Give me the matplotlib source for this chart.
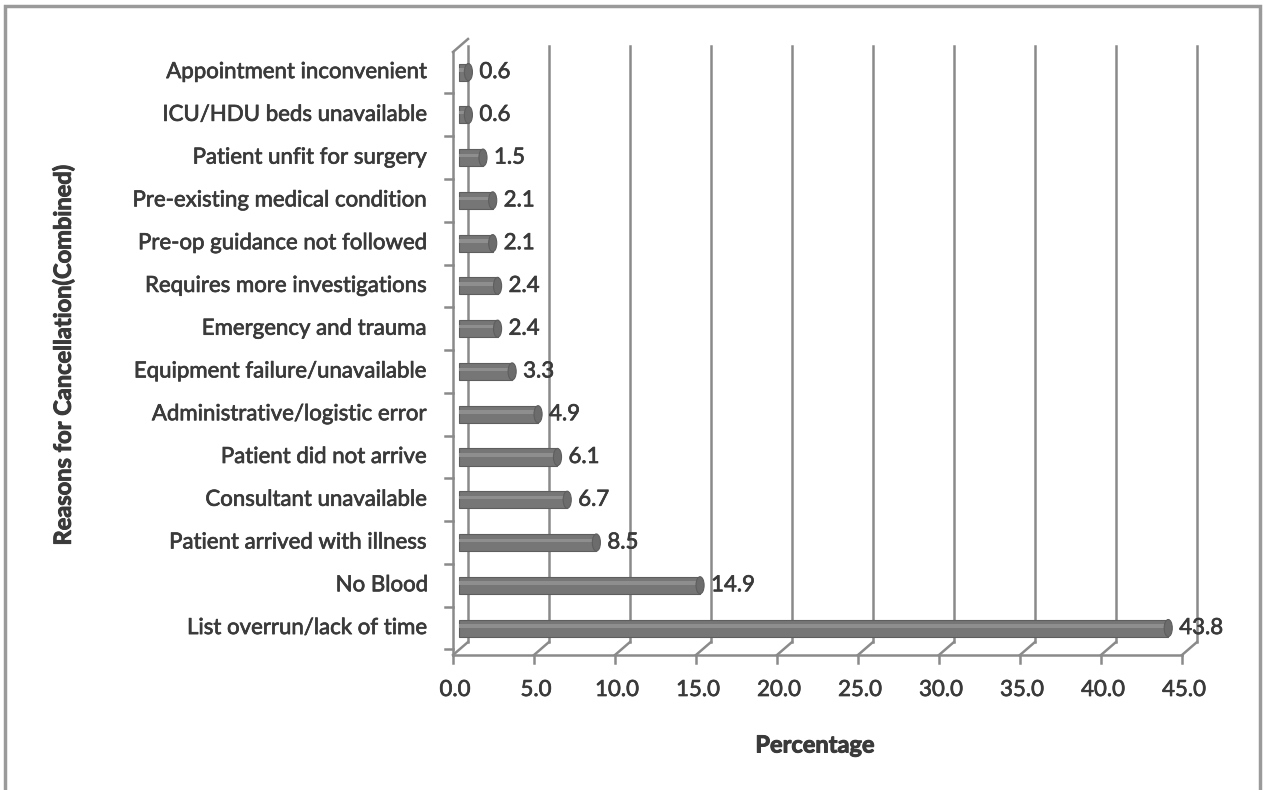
import numpy as np
import matplotlib.pyplot as plt
import matplotlib.patheffects as pe
from matplotlib.patches import Ellipse, Rectangle
from matplotlib.transforms import offset_copy

# donnees (de bas en haut)
reasons = ["List overrun/lack of time", "No Blood", "Patient arrived with illness",
           "Consultant unavailable", "Patient did not arrive", "Administrative/logistic error",
           "Equipment failure/unavailable", "Emergency and trauma", "Requires more investigations",
           "Pre-op guidance not followed", "Pre-existing medical condition",
           "Patient unfit for surgery", "ICU/HDU beds unavailable", "Appointment inconvenient"]
pct = [43.8, 14.9, 8.5, 6.7, 6.1, 4.9, 3.3, 2.4, 2.4, 2.1, 2.1, 1.5, 0.6, 0.6]
xticks = np.arange(0, 50, 5)

W, H = 1266, 790
fig = plt.figure(figsize=(W/100, H/100), dpi=100)
plt.rcParams['font.family'] = ['Lato', 'DejaVu Sans']
txt = '#3a3a3a'
grid = '#8a8a8a'
epais = [pe.withStroke(linewidth=0.5, foreground=txt)]
gras = [pe.withStroke(linewidth=0.7, foreground=txt)]

# zone du graphe (face avant)
x0, x1 = 453, 1182
yb, yt = 655, 52
ax = fig.add_axes([x0/W, 1-yb/H, (x1-x0)/W, (yb-yt)/H])
ax.set_xlim(0, 45)
ymin, ymax = -0.63, 13.47
ax.set_ylim(ymin, ymax)
ax.axis('off')

back = offset_copy(ax.transData, fig, x=15, y=13, units='dots')
inv = ax.transData.inverted()

# mur du fond et sol
for xv in xticks:
    ax.plot([xv, xv], [ymin, 13.3], color=grid, lw=1.8, transform=back, clip_on=False)
    a = inv.transform(ax.transData.transform((xv, ymin)))
    b = inv.transform(back.transform((xv, ymin)))
    ax.plot([a[0], b[0]], [a[1], b[1]], color=grid, lw=1.8, clip_on=False)

# axe avant x et ticks
ax.plot([0, 45], [ymin, ymin], color=grid, lw=1.8, clip_on=False)
for xv in xticks:
    p = ax.transData.transform((xv, ymin))
    q = inv.transform((p[0], p[1]-8))
    ax.plot([xv, xv], [ymin, q[1]], color=grid, lw=1.8, clip_on=False)
    ax.text(xv, q[1], f"{xv:.1f}", ha='center', va='top', fontsize=16,
            color=txt, path_effects=epais,
            transform=offset_copy(ax.transData, fig, x=2, y=-17, units='dots'))

# axe avant y et ticks
ax.plot([0, 0], [ymin, ymax], color=grid, lw=1.8, clip_on=False)
a = inv.transform(back.transform((0, ymax)))
ax.plot([0, a[0]], [ymax, a[1]], color=grid, lw=1.8, clip_on=False)
dxt = inv.transform((ax.transData.transform((0, 0))[0]-8, 0))[0]
for yv in np.arange(-0.5, 13.5, 1.0):
    ax.plot([dxt, 0], [yv, yv], color=grid, lw=1.8, clip_on=False)

# barres
ypos = np.arange(len(pct))
left = 0.35
bh = 0.40
ax.barh(ypos, pct, left=left, height=bh, color='#767676', edgecolor='#5e5e5e',
        lw=0.8, zorder=3, clip_on=False)
for y, v in zip(ypos, pct):
    ax.add_patch(Rectangle((left, y+0.01), v, 0.08, color='#8e8e8e', lw=0, zorder=4, clip_on=False))
    ax.add_patch(Ellipse((left+v, y), 0.5, bh, facecolor='#6c6c6c', edgecolor='#5e5e5e',
                         lw=0.8, zorder=5, clip_on=False))
    ax.annotate(f"{v:.1f}", (left+v, y), xytext=(11, 0), textcoords='offset pixels',
                ha='left', va='center', fontsize=16, color=txt, zorder=6,
                path_effects=epais)

# noms des categories
for y, r in zip(ypos, reasons):
    ax.annotate(r, (0, y), xytext=(-25, 0), textcoords='offset pixels',
                ha='right', va='center', fontsize=16, color=txt,
                path_effects=epais, annotation_clip=False)

fig.text(815/W, 1-745/H, "Percentage", ha='center', va='center', fontsize=17,
         fontweight='bold', color=txt, path_effects=gras)
fig.text(63/W, 1-355/H, "Reasons for Cancellation(Combined)", ha='center', va='center',
         rotation=90, fontsize=17, fontweight='bold', color=txt, path_effects=gras)

# cadre exterieur
fig.add_artist(Rectangle((5/W, -0.02), 1255/W, 1.02 - 6/H, transform=fig.transFigure,
                         fill=False, edgecolor='#9a9a9a', lw=2.5))

fig.savefig('out.png', dpi=100, facecolor='white')
